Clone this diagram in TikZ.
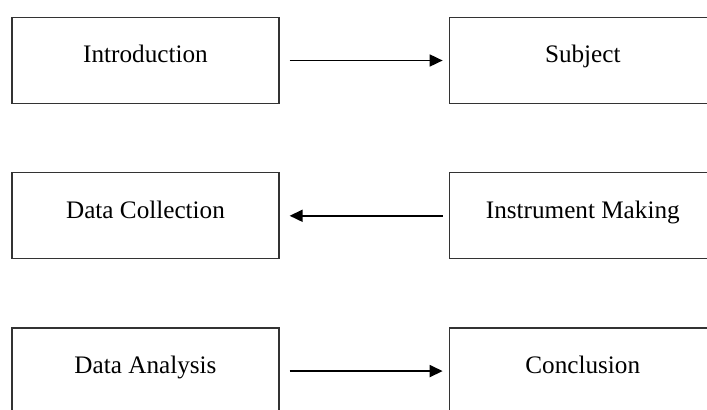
\documentclass[tikz,border=0pt]{standalone}
\usepackage{fontspec}
\setmainfont{Liberation Serif}
\usetikzlibrary{arrows.meta, positioning}

\begin{document}
\begin{tikzpicture}[node distance=2.04cm and 5.07cm, >={Triangle[length=0.39cm, width=0.36cm]},
    stage/.style={rectangle, draw=black!80, line width=1.1pt, minimum width=8.01cm, minimum height=2.58cm,
        text height=0.5cm, text depth=0.35cm, font=\fontsize{21.5}{26}\selectfont},
    link/.style={->, line width=1.5pt, shorten <=0.3cm, shorten >=0.18cm}]

    \useasboundingbox (0,0) rectangle (21.21,-12.3);
    \clip (0,0) rectangle (21.21,-12.3);

    \node (intro) [stage] at (4.365,-1.815) {Introduction};
    \node (subject) [stage, right=of intro] {Subject};
    \node (collect) [stage, below=of intro] {Data Collection};
    \node (instrument) [stage, right=of collect] {Instrument Making};
    \node (analysis) [stage, below=of collect] {Data Analysis};
    \node (conclusion) [stage, right=of analysis] {Conclusion};

    \draw [link] (intro) -- (subject);
    \draw [link, shorten <=0.18cm, shorten >=0.3cm] (instrument) -- (collect);
    \draw [link] (analysis) -- (conclusion);

\end{tikzpicture}
\end{document}
